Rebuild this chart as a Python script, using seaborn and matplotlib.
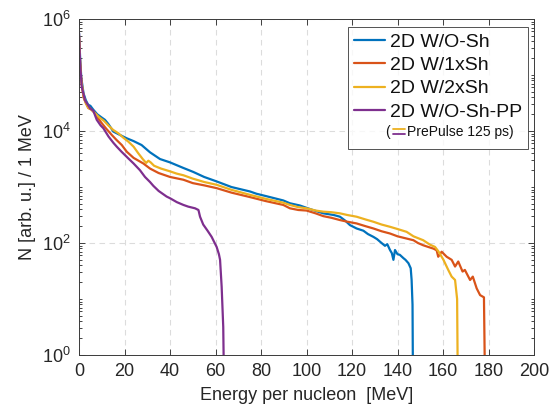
import numpy as np
import pandas as pd
import matplotlib
matplotlib.use('Agg')
import matplotlib.pyplot as plt
import seaborn as sns
from matplotlib.lines import Line2D
from matplotlib.ticker import LogLocator, NullFormatter

# ---------------- data ----------------
series_names = ['2D W/O-Sh', '2D W/1xSh', '2D W/2xSh', '2D W/O-Sh-PP']
colors = ['#0072BD', '#D95319', '#EDB120', '#7E2F8E']

blue_E = [0, 0.5, 1, 2, 3, 4, 5, 6.3, 8, 10, 11.4, 13, 15.1, 18, 21, 24, 27.5, 31.2,
          35.6, 40, 45.9, 50.2, 55, 60.5, 67, 75.2, 78, 82, 89.8, 92.7, 97.1, 102,
          107.4, 112, 114.7, 117, 119.1, 122, 125, 127, 129.4, 131, 133, 134.5, 135.5,
          136.7, 137.5, 138.2, 138.9, 140, 141, 142.6, 143.5, 144.8, 145.8, 146.2,
          146.6, 147.0]
blue_logN = [5.75, 5.3, 4.95, 4.67, 4.55, 4.47, 4.45, 4.38, 4.30, 4.24, 4.20, 4.12, 3.99,
             3.93, 3.87, 3.82, 3.75, 3.62, 3.50, 3.44, 3.34, 3.27, 3.18, 3.10, 3.00, 2.92,
             2.88, 2.84, 2.76, 2.71, 2.67, 2.60, 2.53, 2.50, 2.47, 2.40, 2.32, 2.26, 2.22,
             2.16, 2.11, 2.07, 2.00, 1.95, 1.98, 1.875, 1.82, 1.70, 1.875, 1.80, 1.79,
             1.73, 1.70, 1.64, 1.55, 1.34, 0.9, -2]

orange_E = [0, 0.5, 1, 2, 3, 4.1, 5.5, 7, 8.5, 10, 12, 14.4, 16.5, 18.8, 21, 24, 28.3,
            31.2, 35, 40, 45.9, 50, 55, 60.5, 67, 75.2, 82, 89.8, 92.7, 96.4, 100, 104,
            107.4, 111, 114.7, 118, 122, 126, 129.4, 133, 136.7, 140, 144, 147, 149,
            151.3, 153.5, 155.8, 157.2, 157.9, 159.4, 161.6, 163.8, 165.3, 166.7, 168.6,
            169.6, 171.9, 173.1, 174.8, 176.3, 178.0, 178.9]
orange_logN = [5.7, 5.2, 4.9, 4.6, 4.5, 4.41, 4.38, 4.32, 4.22, 4.14, 4.04, 3.93, 3.84,
               3.75, 3.63, 3.52, 3.42, 3.33, 3.25, 3.18, 3.13, 3.07, 3.03, 2.98, 2.90,
               2.82, 2.75, 2.68, 2.62, 2.59, 2.58, 2.53, 2.48, 2.45, 2.41, 2.38, 2.35,
               2.30, 2.26, 2.21, 2.17, 2.12, 2.08, 2.05, 2.00, 1.96, 1.93, 1.90, 1.87,
               1.755, 1.845, 1.755, 1.70, 1.58, 1.67, 1.49, 1.52, 1.34, 1.40, 1.19, 1.07,
               1.03, -2]

yellow_E = [0, 0.5, 1, 2, 3, 4, 5, 7, 9, 11, 12.9, 15, 17.3, 19.5, 21.7, 24, 26.1, 28,
            29.5, 30.5, 31.5, 33, 36, 40, 42.9, 45.9, 50, 55, 60.5, 67, 75.2, 82, 89.8,
            92.7, 96.4, 100, 104, 107.4, 111, 114.7, 118, 122, 126, 129.4, 133, 136.7,
            140, 144, 147, 151.3, 154.3, 156.5, 158, 160.2, 162.3, 163.8, 165.3, 166.2,
            166.8]
yellow_logN = [5.7, 5.2, 4.9, 4.62, 4.5, 4.42, 4.40, 4.32, 4.24, 4.18, 4.10, 4.02, 3.96,
               3.88, 3.81, 3.72, 3.60, 3.50, 3.43, 3.47, 3.44, 3.38, 3.33, 3.28, 3.24,
               3.21, 3.15, 3.09, 3.04, 2.95, 2.86, 2.79, 2.72, 2.68, 2.64, 2.62, 2.58,
               2.56, 2.55, 2.53, 2.50, 2.47, 2.42, 2.38, 2.33, 2.29, 2.25, 2.20, 2.12,
               2.05, 1.97, 1.93, 1.85, 1.70, 1.52, 1.40, 1.34, 1.0, -2]

purple_E = [0, 0.5, 1.2, 2.6, 4.8, 6.3, 7.8, 9.5, 10.7, 13, 15.1, 16.6, 18.7, 21.7, 24,
            26.8, 29, 31.2, 32.7, 35, 38.5, 40, 43, 45.9, 48, 51, 52.5, 53.2, 54.6, 56.5,
            58.3, 60.5, 61.5, 62, 62.7, 63.4, 64.2]
purple_logN = [5.75, 5.2, 4.79, 4.55, 4.41, 4.36, 4.20, 4.10, 4.05, 3.90, 3.79, 3.72,
               3.63, 3.51, 3.42, 3.30, 3.18, 3.09, 3.02, 2.93, 2.83, 2.80, 2.73, 2.68,
               2.65, 2.62, 2.59, 2.47, 2.33, 2.22, 2.11, 1.93, 1.80, 1.70, 1.22, 0.5, -2]

x_ticks = [0, 20, 40, 60, 80, 100, 120, 140, 160, 180, 200]
y_ticks = [1e0, 1e2, 1e4, 1e6]

# ---------------- build table ----------------
frames = []
for name, E, L in zip(series_names,
                      [blue_E, orange_E, yellow_E, purple_E],
                      [blue_logN, orange_logN, yellow_logN, purple_logN]):
    frames.append(pd.DataFrame({'E': E, 'N': 10.0 ** np.asarray(L), 'series': name}))
df = pd.concat(frames, ignore_index=True)

# ---------------- style ----------------
sns.set_theme(style='ticks')
plt.rcParams['font.family'] = ['Liberation Sans', 'DejaVu Sans']
plt.rcParams['mathtext.fontset'] = 'custom'
plt.rcParams['mathtext.rm'] = 'Liberation Sans'
plt.rcParams['mathtext.it'] = 'Liberation Sans:italic'

fig = plt.figure(figsize=(5.58, 4.12), dpi=100)
ax = fig.add_axes([0.1416, 0.1383, 0.8154, 0.8155])
ax.set_yscale('log')

sns.lineplot(data=df, x='E', y='N', hue='series', hue_order=series_names,
             palette=colors, estimator=None, sort=False, units='series',
             linewidth=1.6, legend=False, ax=ax)

ax.set_xlim(0, 200)
ax.set_ylim(1, 1e6)
ax.set_xticks(x_ticks)
ax.set_yticks(y_ticks)
ax.yaxis.set_minor_locator(LogLocator(base=10, subs=np.arange(1, 10), numticks=30))
ax.yaxis.set_minor_formatter(NullFormatter())

tc = '#262626'
ax.tick_params(which='both', direction='in', top=True, right=True, colors=tc,
               labelsize=13, width=0.6)
ax.tick_params(which='major', length=4.5, pad=6)
ax.tick_params(which='minor', length=2.5)
for s in ax.spines.values():
    s.set_color('#3a3a3a')
    s.set_linewidth(0.7)

ax.grid(True, which='major', linestyle=(0, (5, 4)), color='#dcdcdc', linewidth=0.8)
ax.set_axisbelow(True)

ax.set_xlabel('Energy per nucleon  [MeV]', fontsize=13, color=tc, labelpad=5)
ax.set_ylabel('N [arb. u.] / 1 MeV', fontsize=13, color=tc, labelpad=4)

# ---------------- legend ----------------
handles = [Line2D([], [], color=c, linewidth=1.6) for c in colors]
handles.append(Line2D([], [], color='none'))
labels = series_names + [' ']
leg = ax.legend(handles, labels, loc='upper right', bbox_to_anchor=(0.987, 0.975),
                borderaxespad=0, fontsize=14, handlelength=1.6, handletextpad=0.26,
                labelspacing=0.29, borderpad=0.3, frameon=True, fancybox=False)
leg.get_frame().set_edgecolor('#262626')
leg.get_frame().set_linewidth(0.7)
for t in leg.get_texts():
    t.set_color('#111111')
leg.get_texts()[4].set_fontsize(10)

# sub-note inside legend: ( = PrePulse 125 ps)
ax.text(0.673, 0.664, '(', transform=ax.transAxes, fontsize=10, va='center',
        ha='left', color='#111111', zorder=10)
ax.plot([0.690, 0.716], [0.672, 0.672], transform=ax.transAxes, color=colors[2],
        linewidth=1.3, clip_on=False, zorder=10)
ax.plot([0.690, 0.716], [0.658, 0.658], transform=ax.transAxes, color=colors[3],
        linewidth=1.3, clip_on=False, zorder=10)
ax.text(0.721, 0.664, 'PrePulse 125 ps)', transform=ax.transAxes, fontsize=10,
        va='center', ha='left', color='#111111', zorder=10)

fig.savefig('out.png', dpi=100)
